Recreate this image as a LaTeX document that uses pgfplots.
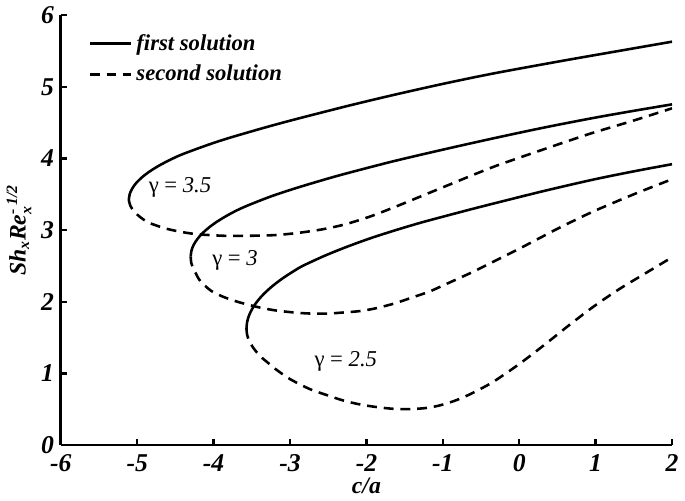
\documentclass[border=0pt]{standalone}
\usepackage{amsmath}
\usepackage{fontspec}
\setmainfont{Liberation Serif}
\usepackage{pgfplots}
\pgfplotsset{compat=1.18}

\begin{document}
\begin{tikzpicture}
\begin{axis}[
    scale only axis,
    width=310pt, height=218pt,
    xmin=-6, xmax=2, ymin=0, ymax=6,
    axis lines=left,
    axis line style={-, line width=1.5pt},
    tick style={line width=1.2pt, black},
    tick align=inside,
    major tick length=3pt,
    xtick={-6,-5,...,2},
    xticklabels={-6,-5,-4,-3,-2,-1,0,1,2},
    ytick={0,1,...,6},
    yticklabels={0,1,2,3,4,5,6},
    ticklabel style={font=\fontsize{13}{14}\selectfont\bfseries\itshape},
    xticklabel style={yshift=-1.5pt},
    label style={font=\fontsize{12}{14}\selectfont\bfseries\itshape},
    xlabel={c/a},
    ylabel={Sh$_{\text{x}}$Re$_{\text{x}}^{\text{- 1/2}}$},
    xlabel style={yshift=4pt},
    ylabel style={yshift=-2pt},
    legend style={draw=none, fill=none, at={(0.035,0.975)}, anchor=north west,
        font=\fontsize{11.5}{13}\selectfont\bfseries\itshape,
        row sep=2pt},
    legend cell align=left,
    legend image code/.code={\draw[#1] (0pt,0pt) -- (21pt,0pt);},
    every axis plot/.append style={black, line width=1.3pt},
]
% gamma = 3.5
\addplot[solid, smooth] coordinates {
 (-5.110,3.42) (-5.099,3.50) (-5.066,3.58) (-5.011,3.66) (-4.934,3.74)
 (-4.835,3.82) (-4.714,3.90) (-4.571,3.98) (-4.405,4.06) (-4.06,4.195)
 (-3.77,4.295) (-3.30,4.44) (-2.90,4.555) (-2.20,4.745) (-1.61,4.895) (-0.96,5.05)
 (-0.32,5.19) (0.55,5.36) (1.30,5.50) (2.00,5.63)};
\addlegendentry{first solution}
\addplot[dash pattern=on 5pt off 3.5pt, smooth] coordinates {
 (-5.11,3.42) (-5.09,3.34) (-5.04,3.26) (-4.96,3.18) (-4.84,3.10) (-4.62,3.02)
 (-4.40,2.97) (-4.19,2.94) (-3.85,2.92) (-3.55,2.92) (-3.20,2.93)
 (-2.90,2.96) (-2.58,3.01) (-2.28,3.08) (-1.95,3.19) (-1.61,3.33) (-1.29,3.47)
 (-0.97,3.61) (-0.65,3.75) (-0.32,3.89) (0.00,4.01) (0.30,4.12) (0.63,4.24)
 (0.97,4.36) (1.50,4.53) (2.00,4.70)};
\addlegendentry{second solution}
% gamma = 3
\addplot[solid, smooth] coordinates {
 (-4.300,2.63) (-4.291,2.71) (-4.263,2.79) (-4.216,2.87) (-4.152,2.95)
 (-4.068,3.03) (-3.966,3.11) (-3.845,3.19) (-3.706,3.27) (-3.55,3.345)
 (-3.25,3.47) (-2.94,3.58) (-2.62,3.683) (-2.30,3.78) (-1.65,3.96) (-0.97,4.13)
 (-0.32,4.285) (0.32,4.43) (0.97,4.565) (1.50,4.665) (2.00,4.755)};
\addplot[dash pattern=on 5pt off 3.5pt, smooth] coordinates {
 (-4.30,2.63) (-4.294,2.55) (-4.27,2.47) (-4.23,2.39) (-4.19,2.31) (-4.12,2.23)
 (-4.03,2.15) (-3.90,2.08) (-3.75,2.02) (-3.59,1.97) (-3.40,1.92) (-3.20,1.88)
 (-2.95,1.85) (-2.74,1.835) (-2.50,1.835) (-2.30,1.85) (-2.08,1.87) (-1.87,1.91)
 (-1.62,1.98) (-1.40,2.06) (-1.18,2.14) (-0.97,2.24) (-0.62,2.41) (-0.30,2.58)
 (0.00,2.74) (0.27,2.89) (0.54,3.04) (0.97,3.26) (1.50,3.50) (2.00,3.71)};
% gamma = 2.5
\addplot[solid, smooth] coordinates {
 (-3.570,1.62) (-3.564,1.70) (-3.546,1.78) (-3.515,1.86) (-3.473,1.94)
 (-3.418,2.02) (-3.351,2.10) (-3.272,2.18) (-3.181,2.26) (-3.078,2.34)
 (-2.962,2.42) (-2.834,2.50) (-2.55,2.64) (-2.26,2.765) (-1.95,2.885)
 (-1.63,2.995) (-1.30,3.10) (-0.97,3.195) (-0.65,3.285) (-0.32,3.375) (0.32,3.545)
 (0.97,3.705) (1.50,3.82) (2.00,3.92)};
\addplot[dash pattern=on 5pt off 3.5pt, smooth] coordinates {
 (-3.570,1.62) (-3.562,1.54) (-3.537,1.46) (-3.496,1.38) (-3.44,1.30)
 (-3.37,1.22) (-3.28,1.14) (-3.19,1.06) (-3.00,0.92) (-2.74,0.78) (-2.50,0.69)
 (-2.30,0.62) (-2.08,0.565) (-1.87,0.53) (-1.65,0.505) (-1.45,0.50) (-1.23,0.515)
 (-1.05,0.55) (-0.85,0.615) (-0.65,0.705) (-0.45,0.815) (-0.32,0.895) (0.00,1.13)
 (0.32,1.39) (0.65,1.67) (0.97,1.93) (1.30,2.17) (1.61,2.37) (2.00,2.62)};

\node[font=\fontsize{11.5}{13}\selectfont] at (axis cs:-4.44,3.59) {γ = \textit{3.5}};
\node[font=\fontsize{11.5}{13}\selectfont] at (axis cs:-3.72,2.57) {γ = \textit{3}};
\node[font=\fontsize{11.5}{13}\selectfont] at (axis cs:-2.27,1.16) {γ = \textit{2.5}};
\end{axis}
\end{tikzpicture}
\end{document}
